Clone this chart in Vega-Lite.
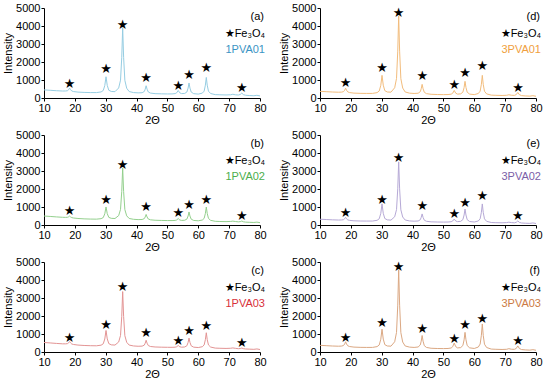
{
  "$schema": "https://vega.github.io/schema/vega-lite/v6.json",
  "padding": {"left": 2, "top": 2, "right": 2, "bottom": 2},
  "background": "white",
  "datasets": {
    "curves": [
      {"x":10,"a":450,"b":500,"c":530,"d":370,"e":320,"f":370},
      {"x":12,"a":428,"b":475,"c":504,"d":352,"e":304,"f":352},
      {"x":14,"a":405,"b":450,"c":477,"d":333,"e":288,"f":333},
      {"x":16,"a":388,"b":428,"c":454,"d":321,"e":276,"f":322},
      {"x":17,"a":389,"b":423,"c":453,"d":327,"e":280,"f":329},
      {"x":17.6,"a":405,"b":428,"c":464,"d":352,"e":295,"f":357},
      {"x":18.0,"a":465,"b":455,"c":512,"d":434,"e":350,"f":447},
      {"x":18.3,"a":548,"b":498,"c":581,"d":544,"e":424,"f":569},
      {"x":18.6,"a":461,"b":450,"c":507,"d":430,"e":347,"f":443},
      {"x":19.0,"a":389,"b":410,"c":445,"d":339,"e":284,"f":344},
      {"x":19.6,"a":357,"b":388,"c":416,"d":301,"e":257,"f":303},
      {"x":21,"a":328,"b":362,"c":385,"d":271,"e":233,"f":272},
      {"x":23,"a":310,"b":341,"c":362,"d":258,"e":222,"f":258},
      {"x":25,"a":302,"b":329,"c":350,"d":254,"e":219,"f":254},
      {"x":27,"a":301,"b":325,"c":345,"d":255,"e":219,"f":255},
      {"x":28.5,"a":336,"b":351,"c":379,"d":298,"e":260,"f":299},
      {"x":29.2,"a":417,"b":413,"c":456,"d":390,"e":347,"f":391},
      {"x":29.7,"a":691,"b":624,"c":722,"d":703,"e":646,"f":708},
      {"x":30.1,"a":1179,"b":1001,"c":1196,"d":1257,"e":1174,"f":1267},
      {"x":30.5,"a":698,"b":629,"c":728,"d":712,"e":651,"f":717},
      {"x":31.0,"a":430,"b":423,"c":467,"d":408,"e":361,"f":409},
      {"x":31.8,"a":363,"b":370,"c":397,"d":334,"e":286,"f":334},
      {"x":33,"a":352,"b":361,"c":385,"d":324,"e":271,"f":324},
      {"x":34.2,"a":558,"b":523,"c":556,"d":569,"e":458,"f":569},
      {"x":34.8,"a":991,"b":867,"c":918,"d":1087,"e":854,"f":1087},
      {"x":35.2,"a":2261,"b":1868,"c":1981,"d":2603,"e":2012,"f":2603},
      {"x":35.5,"a":3902,"b":3165,"c":3357,"d":4562,"e":3509,"f":4562},
      {"x":35.8,"a":2258,"b":1865,"c":1978,"d":2600,"e":2009,"f":2600},
      {"x":36.2,"a":981,"b":856,"c":907,"d":1077,"e":844,"f":1077},
      {"x":36.8,"a":542,"b":509,"c":539,"d":553,"e":444,"f":553},
      {"x":37.6,"a":358,"b":363,"c":385,"d":335,"e":277,"f":335},
      {"x":39,"a":302,"b":316,"c":336,"d":270,"e":227,"f":272},
      {"x":40.5,"a":285,"b":300,"c":319,"d":251,"e":212,"f":254},
      {"x":41.8,"a":294,"b":305,"c":326,"d":265,"e":223,"f":278},
      {"x":42.5,"a":361,"b":354,"c":382,"d":352,"e":293,"f":392},
      {"x":42.8,"a":489,"b":447,"c":490,"d":514,"e":422,"f":602},
      {"x":43.1,"a":680,"b":586,"c":652,"d":757,"e":615,"f":917},
      {"x":43.4,"a":489,"b":447,"c":490,"d":514,"e":422,"f":602},
      {"x":43.8,"a":333,"b":332,"c":358,"d":319,"e":267,"f":351},
      {"x":44.5,"a":274,"b":288,"c":306,"d":243,"e":206,"f":254},
      {"x":46,"a":242,"b":264,"c":279,"d":206,"e":176,"f":208},
      {"x":48,"a":231,"b":253,"c":268,"d":193,"e":166,"f":194},
      {"x":50,"a":225,"b":247,"c":262,"d":188,"e":162,"f":190},
      {"x":51.5,"a":227,"b":246,"c":260,"d":192,"e":166,"f":196},
      {"x":52.5,"a":244,"b":255,"c":268,"d":212,"e":182,"f":223},
      {"x":53.0,"a":288,"b":281,"c":291,"d":264,"e":220,"f":293},
      {"x":53.5,"a":417,"b":359,"c":363,"d":418,"e":331,"f":496},
      {"x":54.0,"a":287,"b":280,"c":291,"d":265,"e":220,"f":295},
      {"x":54.6,"a":244,"b":255,"c":267,"d":215,"e":186,"f":227},
      {"x":55.6,"a":255,"b":265,"c":279,"d":231,"e":204,"f":245},
      {"x":56.3,"a":333,"b":327,"c":347,"d":325,"e":298,"f":361},
      {"x":56.7,"a":551,"b":499,"c":532,"d":585,"e":555,"f":678},
      {"x":57.0,"a":834,"b":724,"c":773,"d":925,"e":887,"f":1092},
      {"x":57.3,"a":552,"b":500,"c":533,"d":586,"e":556,"f":679},
      {"x":57.7,"a":330,"b":324,"c":345,"d":322,"e":296,"f":358},
      {"x":58.5,"a":242,"b":253,"c":269,"d":216,"e":193,"f":230},
      {"x":60,"a":217,"b":234,"c":248,"d":188,"e":166,"f":197},
      {"x":61.3,"a":270,"b":276,"c":293,"d":250,"e":224,"f":276},
      {"x":61.9,"a":382,"b":368,"c":392,"d":380,"e":345,"f":441},
      {"x":62.3,"a":715,"b":644,"c":689,"d":763,"e":707,"f":929},
      {"x":62.6,"a":1143,"b":998,"c":1070,"d":1257,"e":1171,"f":1558},
      {"x":62.9,"a":713,"b":643,"c":688,"d":761,"e":705,"f":927},
      {"x":63.3,"a":378,"b":366,"c":390,"d":376,"e":342,"f":435},
      {"x":64,"a":250,"b":258,"c":275,"d":228,"e":203,"f":249},
      {"x":65.5,"a":187,"b":205,"c":217,"d":159,"e":139,"f":163},
      {"x":67,"a":178,"b":195,"c":207,"d":149,"e":129,"f":151},
      {"x":69,"a":169,"b":188,"c":198,"d":140,"e":122,"f":140},
      {"x":70.5,"a":180,"b":198,"c":208,"d":151,"e":134,"f":151},
      {"x":71.2,"a":208,"b":215,"c":226,"d":180,"e":157,"f":185},
      {"x":72,"a":178,"b":194,"c":204,"d":153,"e":134,"f":154},
      {"x":73,"a":165,"b":175,"c":184,"d":145,"e":121,"f":148},
      {"x":73.6,"a":195,"b":186,"c":193,"d":189,"e":150,"f":199},
      {"x":74.1,"a":274,"b":220,"c":220,"d":308,"e":227,"f":338},
      {"x":74.6,"a":189,"b":180,"c":187,"d":185,"e":146,"f":195},
      {"x":75.3,"a":153,"b":161,"c":169,"d":134,"e":112,"f":137},
      {"x":76.5,"a":138,"b":151,"c":159,"d":116,"e":99,"f":117},
      {"x":78,"a":126,"b":140,"c":148,"d":104,"e":90,"f":104},
      {"x":79,"a":150,"b":160,"c":170,"d":130,"e":115,"f":130},
      {"x":80,"a":117,"b":130,"c":138,"d":96,"e":83,"f":96}
    ],
    "stars": [
      {"panel":"a","x":18.3,"y":800},{"panel":"a","x":30.1,"y":1600},{"panel":"a","x":35.5,"y":4050},{"panel":"a","x":43.1,"y":1100},{"panel":"a","x":53.5,"y":650},{"panel":"a","x":57,"y":1300},{"panel":"a","x":62.6,"y":1650},{"panel":"a","x":74.1,"y":550},
      {"panel":"d","x":18.3,"y":850},{"panel":"d","x":30.1,"y":1650},{"panel":"d","x":35.5,"y":4700},{"panel":"d","x":43.2,"y":1200},{"panel":"d","x":53.5,"y":700},{"panel":"d","x":57,"y":1400},{"panel":"d","x":62.6,"y":1800},{"panel":"d","x":74.2,"y":550},
      {"panel":"b","x":18.3,"y":800},{"panel":"b","x":30.1,"y":1400},{"panel":"b","x":35.5,"y":3350},{"panel":"b","x":43.1,"y":1000},{"panel":"b","x":53.5,"y":650},{"panel":"b","x":57,"y":1100},{"panel":"b","x":62.6,"y":1400},{"panel":"b","x":74.1,"y":500},
      {"panel":"e","x":18.3,"y":650},{"panel":"e","x":30.1,"y":1400},{"panel":"e","x":35.5,"y":3700},{"panel":"e","x":43.2,"y":1050},{"panel":"e","x":53.5,"y":600},{"panel":"e","x":57,"y":1250},{"panel":"e","x":62.6,"y":1600},{"panel":"e","x":74.1,"y":500},
      {"panel":"c","x":18.3,"y":800},{"panel":"c","x":30.1,"y":1500},{"panel":"c","x":35.5,"y":3600},{"panel":"c","x":43.1,"y":1050},{"panel":"c","x":53.5,"y":600},{"panel":"c","x":57,"y":1150},{"panel":"c","x":62.6,"y":1450},{"panel":"c","x":74.1,"y":500},
      {"panel":"f","x":18.3,"y":800},{"panel":"f","x":30.1,"y":1600},{"panel":"f","x":35.5,"y":4750},{"panel":"f","x":43.2,"y":1300},{"panel":"f","x":53.5,"y":700},{"panel":"f","x":57,"y":1500},{"panel":"f","x":62.6,"y":1850},{"panel":"f","x":74.2,"y":600}
    ]
  },
  "vconcat": [
    {"hconcat": [
      {"width":216,"height":90,"layer":[
        {"data":{"name":"curves"},"mark":{"type":"line","color":"#96cde2","strokeWidth":1},
         "encoding":{"x":{"field":"x","type":"quantitative","scale":{"domain":[10,80],"nice":false},"axis":{"values":[10,20,30,40,50,60,70,80],"title":"2Θ"}},
                     "y":{"field":"a","type":"quantitative","scale":{"domain":[0,5000],"nice":false},"axis":{"values":[0,1000,2000,3000,4000,5000],"title":"Intensity"}}}},
        {"data":{"name":"stars"},"transform":[{"filter":"datum.panel=='a'"}],"mark":{"type":"text","text":"★","font":"DejaVu Sans","fontSize":13,"color":"#000"},
         "encoding":{"x":{"field":"x","type":"quantitative","axis":{"values":[10,20,30,40,50,60,70,80],"title":"2Θ"}},"y":{"field":"y","type":"quantitative","axis":{"values":[0,1000,2000,3000,4000,5000],"title":"Intensity"}}}},
        {"data":{"values":[{}]},"mark":{"type":"text","text":"(a)","align":"right","font":"Liberation Sans","fontSize":11,"color":"#000","dx":4},"encoding":{"x":{"datum":80,"axis":{"values":[10,20,30,40,50,60,70,80],"title":"2Θ"}},"y":{"datum":4500,"axis":{"values":[0,1000,2000,3000,4000,5000],"title":"Intensity"}}}},
        {"data":{"values":[{}]},"mark":{"type":"text","text":"★Fe₃O₄","align":"right","font":"Liberation Sans","fontSize":11,"color":"#000","dx":5},"encoding":{"x":{"datum":80,"axis":{"values":[10,20,30,40,50,60,70,80],"title":"2Θ"}},"y":{"datum":3550,"axis":{"values":[0,1000,2000,3000,4000,5000],"title":"Intensity"}}}},
        {"data":{"values":[{}]},"mark":{"type":"text","text":"1PVA01","align":"right","font":"Liberation Sans","fontSize":11,"color":"#3b94c4","dx":5},"encoding":{"x":{"datum":80,"axis":{"values":[10,20,30,40,50,60,70,80],"title":"2Θ"}},"y":{"datum":2650,"axis":{"values":[0,1000,2000,3000,4000,5000],"title":"Intensity"}}}}
      ]},
      {"width":216,"height":90,"layer":[
        {"data":{"name":"curves"},"mark":{"type":"line","color":"#f2bc7c","strokeWidth":1},
         "encoding":{"x":{"field":"x","type":"quantitative","scale":{"domain":[10,80],"nice":false},"axis":{"values":[10,20,30,40,50,60,70,80],"title":"2Θ"}},
                     "y":{"field":"d","type":"quantitative","scale":{"domain":[0,5000],"nice":false},"axis":{"values":[0,1000,2000,3000,4000,5000],"title":"Intensity"}}}},
        {"data":{"name":"stars"},"transform":[{"filter":"datum.panel=='d'"}],"mark":{"type":"text","text":"★","font":"DejaVu Sans","fontSize":13,"color":"#000"},
         "encoding":{"x":{"field":"x","type":"quantitative","axis":{"values":[10,20,30,40,50,60,70,80],"title":"2Θ"}},"y":{"field":"y","type":"quantitative","axis":{"values":[0,1000,2000,3000,4000,5000],"title":"Intensity"}}}},
        {"data":{"values":[{}]},"mark":{"type":"text","text":"(d)","align":"right","font":"Liberation Sans","fontSize":11,"color":"#000","dx":4},"encoding":{"x":{"datum":80,"axis":{"values":[10,20,30,40,50,60,70,80],"title":"2Θ"}},"y":{"datum":4500,"axis":{"values":[0,1000,2000,3000,4000,5000],"title":"Intensity"}}}},
        {"data":{"values":[{}]},"mark":{"type":"text","text":"★Fe₃O₄","align":"right","font":"Liberation Sans","fontSize":11,"color":"#000","dx":5},"encoding":{"x":{"datum":80,"axis":{"values":[10,20,30,40,50,60,70,80],"title":"2Θ"}},"y":{"datum":3550,"axis":{"values":[0,1000,2000,3000,4000,5000],"title":"Intensity"}}}},
        {"data":{"values":[{}]},"mark":{"type":"text","text":"3PVA01","align":"right","font":"Liberation Sans","fontSize":11,"color":"#f0a040","dx":5},"encoding":{"x":{"datum":80,"axis":{"values":[10,20,30,40,50,60,70,80],"title":"2Θ"}},"y":{"datum":2650,"axis":{"values":[0,1000,2000,3000,4000,5000],"title":"Intensity"}}}}
      ]}
    ], "spacing": 11},
    {"hconcat": [
      {"width":216,"height":90,"layer":[
        {"data":{"name":"curves"},"mark":{"type":"line","color":"#94d08e","strokeWidth":1},
         "encoding":{"x":{"field":"x","type":"quantitative","scale":{"domain":[10,80],"nice":false},"axis":{"values":[10,20,30,40,50,60,70,80],"title":"2Θ"}},
                     "y":{"field":"b","type":"quantitative","scale":{"domain":[0,5000],"nice":false},"axis":{"values":[0,1000,2000,3000,4000,5000],"title":"Intensity"}}}},
        {"data":{"name":"stars"},"transform":[{"filter":"datum.panel=='b'"}],"mark":{"type":"text","text":"★","font":"DejaVu Sans","fontSize":13,"color":"#000"},
         "encoding":{"x":{"field":"x","type":"quantitative","axis":{"values":[10,20,30,40,50,60,70,80],"title":"2Θ"}},"y":{"field":"y","type":"quantitative","axis":{"values":[0,1000,2000,3000,4000,5000],"title":"Intensity"}}}},
        {"data":{"values":[{}]},"mark":{"type":"text","text":"(b)","align":"right","font":"Liberation Sans","fontSize":11,"color":"#000","dx":4},"encoding":{"x":{"datum":80,"axis":{"values":[10,20,30,40,50,60,70,80],"title":"2Θ"}},"y":{"datum":4500,"axis":{"values":[0,1000,2000,3000,4000,5000],"title":"Intensity"}}}},
        {"data":{"values":[{}]},"mark":{"type":"text","text":"★Fe₃O₄","align":"right","font":"Liberation Sans","fontSize":11,"color":"#000","dx":5},"encoding":{"x":{"datum":80,"axis":{"values":[10,20,30,40,50,60,70,80],"title":"2Θ"}},"y":{"datum":3550,"axis":{"values":[0,1000,2000,3000,4000,5000],"title":"Intensity"}}}},
        {"data":{"values":[{}]},"mark":{"type":"text","text":"1PVA02","align":"right","font":"Liberation Sans","fontSize":11,"color":"#4cae4c","dx":5},"encoding":{"x":{"datum":80,"axis":{"values":[10,20,30,40,50,60,70,80],"title":"2Θ"}},"y":{"datum":2650,"axis":{"values":[0,1000,2000,3000,4000,5000],"title":"Intensity"}}}}
      ]},
      {"width":216,"height":90,"layer":[
        {"data":{"name":"curves"},"mark":{"type":"line","color":"#b6a9d6","strokeWidth":1},
         "encoding":{"x":{"field":"x","type":"quantitative","scale":{"domain":[10,80],"nice":false},"axis":{"values":[10,20,30,40,50,60,70,80],"title":"2Θ"}},
                     "y":{"field":"e","type":"quantitative","scale":{"domain":[0,5000],"nice":false},"axis":{"values":[0,1000,2000,3000,4000,5000],"title":"Intensity"}}}},
        {"data":{"name":"stars"},"transform":[{"filter":"datum.panel=='e'"}],"mark":{"type":"text","text":"★","font":"DejaVu Sans","fontSize":13,"color":"#000"},
         "encoding":{"x":{"field":"x","type":"quantitative","axis":{"values":[10,20,30,40,50,60,70,80],"title":"2Θ"}},"y":{"field":"y","type":"quantitative","axis":{"values":[0,1000,2000,3000,4000,5000],"title":"Intensity"}}}},
        {"data":{"values":[{}]},"mark":{"type":"text","text":"(e)","align":"right","font":"Liberation Sans","fontSize":11,"color":"#000","dx":4},"encoding":{"x":{"datum":80,"axis":{"values":[10,20,30,40,50,60,70,80],"title":"2Θ"}},"y":{"datum":4500,"axis":{"values":[0,1000,2000,3000,4000,5000],"title":"Intensity"}}}},
        {"data":{"values":[{}]},"mark":{"type":"text","text":"★Fe₃O₄","align":"right","font":"Liberation Sans","fontSize":11,"color":"#000","dx":5},"encoding":{"x":{"datum":80,"axis":{"values":[10,20,30,40,50,60,70,80],"title":"2Θ"}},"y":{"datum":3550,"axis":{"values":[0,1000,2000,3000,4000,5000],"title":"Intensity"}}}},
        {"data":{"values":[{}]},"mark":{"type":"text","text":"3PVA02","align":"right","font":"Liberation Sans","fontSize":11,"color":"#7b5ea7","dx":5},"encoding":{"x":{"datum":80,"axis":{"values":[10,20,30,40,50,60,70,80],"title":"2Θ"}},"y":{"datum":2650,"axis":{"values":[0,1000,2000,3000,4000,5000],"title":"Intensity"}}}}
      ]}
    ], "spacing": 11},
    {"hconcat": [
      {"width":216,"height":90,"layer":[
        {"data":{"name":"curves"},"mark":{"type":"line","color":"#e39494","strokeWidth":1},
         "encoding":{"x":{"field":"x","type":"quantitative","scale":{"domain":[10,80],"nice":false},"axis":{"values":[10,20,30,40,50,60,70,80],"title":"2Θ"}},
                     "y":{"field":"c","type":"quantitative","scale":{"domain":[0,5000],"nice":false},"axis":{"values":[0,1000,2000,3000,4000,5000],"title":"Intensity"}}}},
        {"data":{"name":"stars"},"transform":[{"filter":"datum.panel=='c'"}],"mark":{"type":"text","text":"★","font":"DejaVu Sans","fontSize":13,"color":"#000"},
         "encoding":{"x":{"field":"x","type":"quantitative","axis":{"values":[10,20,30,40,50,60,70,80],"title":"2Θ"}},"y":{"field":"y","type":"quantitative","axis":{"values":[0,1000,2000,3000,4000,5000],"title":"Intensity"}}}},
        {"data":{"values":[{}]},"mark":{"type":"text","text":"(c)","align":"right","font":"Liberation Sans","fontSize":11,"color":"#000","dx":4},"encoding":{"x":{"datum":80,"axis":{"values":[10,20,30,40,50,60,70,80],"title":"2Θ"}},"y":{"datum":4500,"axis":{"values":[0,1000,2000,3000,4000,5000],"title":"Intensity"}}}},
        {"data":{"values":[{}]},"mark":{"type":"text","text":"★Fe₃O₄","align":"right","font":"Liberation Sans","fontSize":11,"color":"#000","dx":5},"encoding":{"x":{"datum":80,"axis":{"values":[10,20,30,40,50,60,70,80],"title":"2Θ"}},"y":{"datum":3550,"axis":{"values":[0,1000,2000,3000,4000,5000],"title":"Intensity"}}}},
        {"data":{"values":[{}]},"mark":{"type":"text","text":"1PVA03","align":"right","font":"Liberation Sans","fontSize":11,"color":"#d8303a","dx":5},"encoding":{"x":{"datum":80,"axis":{"values":[10,20,30,40,50,60,70,80],"title":"2Θ"}},"y":{"datum":2650,"axis":{"values":[0,1000,2000,3000,4000,5000],"title":"Intensity"}}}}
      ]},
      {"width":216,"height":90,"layer":[
        {"data":{"name":"curves"},"mark":{"type":"line","color":"#dba883","strokeWidth":1},
         "encoding":{"x":{"field":"x","type":"quantitative","scale":{"domain":[10,80],"nice":false},"axis":{"values":[10,20,30,40,50,60,70,80],"title":"2Θ"}},
                     "y":{"field":"f","type":"quantitative","scale":{"domain":[0,5000],"nice":false},"axis":{"values":[0,1000,2000,3000,4000,5000],"title":"Intensity"}}}},
        {"data":{"name":"stars"},"transform":[{"filter":"datum.panel=='f'"}],"mark":{"type":"text","text":"★","font":"DejaVu Sans","fontSize":13,"color":"#000"},
         "encoding":{"x":{"field":"x","type":"quantitative","axis":{"values":[10,20,30,40,50,60,70,80],"title":"2Θ"}},"y":{"field":"y","type":"quantitative","axis":{"values":[0,1000,2000,3000,4000,5000],"title":"Intensity"}}}},
        {"data":{"values":[{}]},"mark":{"type":"text","text":"(f)","align":"right","font":"Liberation Sans","fontSize":11,"color":"#000","dx":4},"encoding":{"x":{"datum":80,"axis":{"values":[10,20,30,40,50,60,70,80],"title":"2Θ"}},"y":{"datum":4500,"axis":{"values":[0,1000,2000,3000,4000,5000],"title":"Intensity"}}}},
        {"data":{"values":[{}]},"mark":{"type":"text","text":"★Fe₃O₄","align":"right","font":"Liberation Sans","fontSize":11,"color":"#000","dx":5},"encoding":{"x":{"datum":80,"axis":{"values":[10,20,30,40,50,60,70,80],"title":"2Θ"}},"y":{"datum":3550,"axis":{"values":[0,1000,2000,3000,4000,5000],"title":"Intensity"}}}},
        {"data":{"values":[{}]},"mark":{"type":"text","text":"3PVA03","align":"right","font":"Liberation Sans","fontSize":11,"color":"#cc7a44","dx":5},"encoding":{"x":{"datum":80,"axis":{"values":[10,20,30,40,50,60,70,80],"title":"2Θ"}},"y":{"datum":2650,"axis":{"values":[0,1000,2000,3000,4000,5000],"title":"Intensity"}}}}
      ]}
    ], "spacing": 11}
  ],
  "spacing": 4,
  "config": {
    "view": {"stroke": null},
    "axis": {
      "grid": false,
      "format": "d",
      "labelOverlap": false,
      "labelFlush": false,
      "labelFont": "Liberation Sans",
      "labelFontSize": 11,
      "labelColor": "#000",
      "titleFont": "Liberation Sans",
      "titleFontSize": 11,
      "titleFontWeight": "normal",
      "titleColor": "#000",
      "domainColor": "#000",
      "tickColor": "#000",
      "tickSize": 3,
      "labelPadding": 1
    },
    "axisY": {"titlePadding": 2},
    "axisX": {"titlePadding": 1}
  }
}
